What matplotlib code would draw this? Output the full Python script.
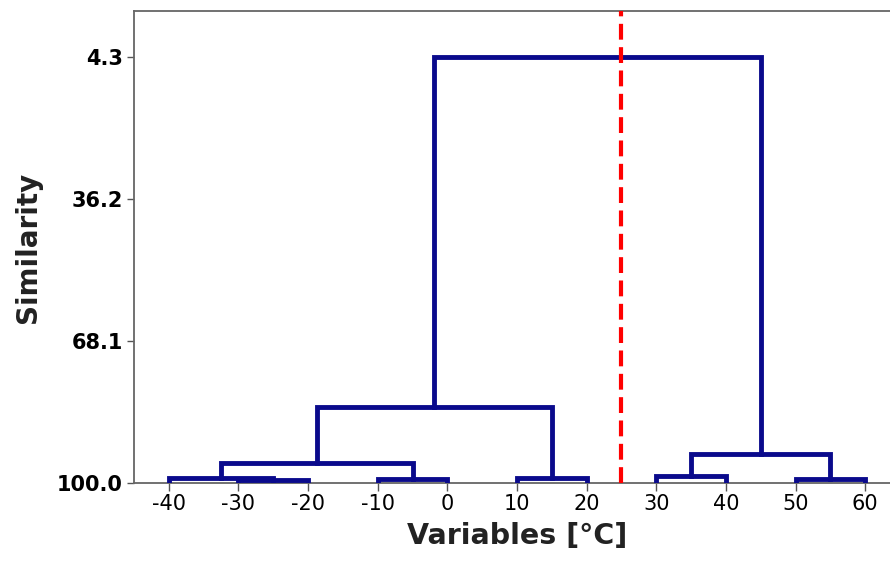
import matplotlib
matplotlib.use('Agg')
import matplotlib.pyplot as plt

# leaves of the dendrogram (temperature variables)
leaves = [-40, -30, -20, -10, 0, 10, 20, 30, 40, 50, 60]

# merges: (left node, right node, similarity); nodes 0..10 are leaves,
# every merge makes a new node numbered from 11 on
merge_left = [1, 0, 3, 12, 5, 14, 7, 9, 17, 16]
merge_right = [2, 11, 4, 13, 6, 15, 8, 10, 18, 19]
merge_sim = [99.4, 98.9, 99.0, 95.6, 98.8, 83.0, 98.4, 99.1, 93.5, 4.3]

y_ticks = [4.3, 36.2, 68.1, 100.0]
cut_at = 25

line_col = '#0a0a8c'

fig = plt.figure(figsize=(8.9, 5.62), dpi=100)
ax = fig.add_axes([134 / 890, 79 / 562, 766 / 890, 472 / 562])

node_x = [float(v) for v in leaves]
node_h = [100.0] * len(leaves)
for a, b, h in zip(merge_left, merge_right, merge_sim):
    xa, xb = node_x[a], node_x[b]
    ax.plot([xa, xa, xb, xb], [node_h[a], h, h, node_h[b]],
            color=line_col, lw=3.5, solid_joinstyle='miter',
            solid_capstyle='projecting', zorder=3)
    node_x.append((xa + xb) / 2)
    node_h.append(h)

ax.axvline(cut_at, color='#ff0000', lw=3, linestyle=(0, (3.8, 1.8)), zorder=4)

ax.set_xlim(-45, 65)
ax.set_ylim(100, -6.1)

ax.set_xticks(leaves)
ax.set_xticklabels([str(v) for v in leaves], fontsize=15)
ax.set_yticks(y_ticks)
ax.set_yticklabels(['%.1f' % v for v in y_ticks], fontsize=15, fontweight='bold')

ax.tick_params(axis='x', length=6, width=1, color='#555555', pad=2)
ax.tick_params(axis='y', length=5, width=1, color='#555555', pad=3)

for side in ['left', 'top', 'bottom']:
    ax.spines[side].set_color('#666666')
    ax.spines[side].set_linewidth(1.3)
ax.spines['right'].set_visible(False)

ax.set_xlabel('Variables [°C]', fontsize=20.5, fontweight='bold', color='#222222', labelpad=6)
ax.set_ylabel('Similarity', fontsize=20, fontweight='bold', color='#222222', labelpad=11)

fig.savefig('out.png', dpi=100)
